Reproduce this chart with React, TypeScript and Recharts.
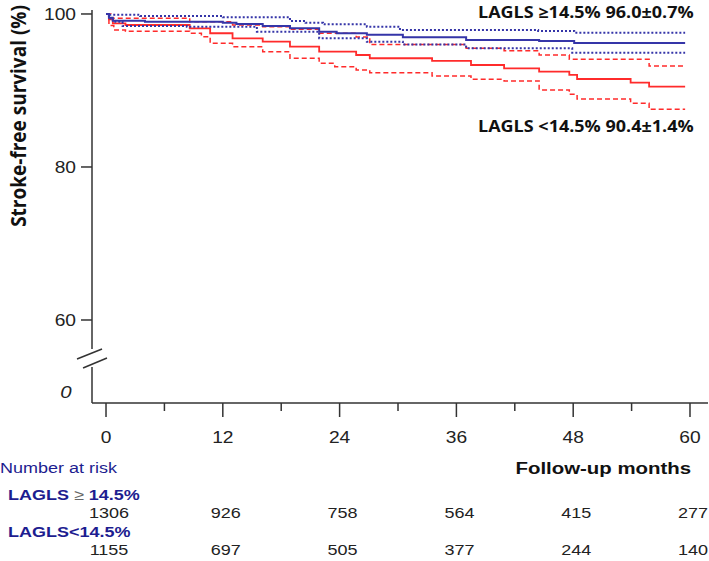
import React from 'react'
import { LineChart, Line, XAxis, YAxis, ReferenceLine } from 'recharts'

// Kaplan-Meier steps (months, % stroke-free)
const blueT = [0, 0.3, 0.7, 4, 12, 13.4, 16.1, 18.9, 21.9, 23.7, 26.8, 30.5, 37, 44.5, 48.1, 59.5]
const blueS = [100, 99.5, 99.12, 98.99, 98.86, 98.69, 98.43, 98.13, 97.69, 97.48, 97.29, 96.95, 96.6, 96.47, 96.21, 96.21]

const blueHiT = [0, 0.3, 3.5, 12, 18.9, 20.5, 22.3, 26.8, 30.2, 44.4, 48.1, 59.5]
const blueHiS = [100, 99.9, 99.74, 99.57, 99.08, 98.86, 98.65, 98.34, 97.9, 97.78, 97.56, 97.56]

const blueLoT = [0, 0.3, 0.7, 1.7, 8.3, 15.5, 21.9, 26.8, 30.5, 37, 47.9, 59.5]
const blueLoS = [100, 99.4, 98.99, 98.43, 98.34, 97.69, 96.82, 96.38, 96.0, 95.52, 94.94, 94.94]

const redT = [0, 0.3, 0.7, 2, 8.6, 10.7, 13, 16.1, 18.9, 21.9, 25.7, 27.1, 33.5, 37.5, 40.9, 44.5, 47.6, 48.4, 53.9, 55.8, 59.5]
const redS = [100, 99.3, 98.78, 98.56, 98.13, 97.48, 96.82, 96.38, 95.73, 95.07, 94.64, 94.21, 93.86, 93.33, 92.9, 92.46, 92.03, 91.5, 91.02, 90.5, 90.5]

const redHiT = [0, 0.5, 8.6, 13, 16.1, 18.9, 21.9, 25.7, 27.1, 37, 40.9, 44.5, 47.6, 55.8, 59.5]
const redHiS = [100, 99.44, 98.99, 98.56, 98.34, 98.0, 97.48, 96.99, 96.0, 95.52, 95.2, 94.64, 94.08, 93.2, 93.2]

const redLoT = [0, 0.3, 0.8, 2, 8.6, 9.8, 10.7, 13, 16.1, 18.9, 21.9, 23.5, 25.7, 27.1, 33.5, 37.5, 40.9, 44.5, 47.6, 48.4, 53.9, 55.8, 59.5]
const redLoS = [100, 98.5, 97.91, 97.74, 97.48, 97.03, 96.17, 95.73, 95.07, 94.21, 93.56, 93.11, 92.68, 92.33, 91.9, 91.46, 91.24, 90.07, 89.5, 88.89, 88.33, 87.54, 87.54]

const xTicks = [0, 6, 12, 18, 24, 30, 36, 42, 48, 54, 60]
const riskMonths = [0, 12, 24, 36, 48, 60]
const riskHigh = [1306, 926, 758, 564, 415, 277]
const riskLow = [1155, 697, 505, 377, 244, 140]

const yTicks = [60, 80, 100]
const yBreakAt = 50.6 // where the "0" sits below the axis break
const yBreakLabel = '0'

const X_MIN = -1.44
const X_MAX = 61.85
const Y_MIN = 49.15
const Y_MAX = 100.52

const BLUE = '#3535a8'
const RED = '#ff2b2b'
const NAVY = '#1d1d90'
const ARIAL = '"Liberation Sans", Arial, sans-serif'
const BOLD = '"Open Sans", "Noto Sans", sans-serif'
const SX = 1.2 // the original figure's lettering is stretched sideways

const toRows = (t: number[], s: number[]) => t.map((v, i) => ({ t: v, s: s[i] }))

function SText({ x, y, sx = SX, anchor = 'start', size, weight = 400, color = '#222', family = ARIAL, italic = false, children }: any) {
  return (
    <g transform={`translate(${x},${y}) scale(${sx},1)`}>
      <text x={0} y={0} dy="0.35em" textAnchor={anchor} fontFamily={family} fontSize={size} fontWeight={weight}
        fontStyle={italic ? 'italic' : 'normal'} fill={color}>
        {children}
      </text>
    </g>
  )
}

function XTick(props: any) {
  const { x, y, payload } = props
  const v = payload.value
  const major = v % 12 === 0
  const i = riskMonths.indexOf(v)
  return (
    <g>
      <line x1={x} x2={x} y1={y} y2={y + (major ? 14 : 8)} stroke="#333" strokeWidth={1.5} />
      {major && <SText x={x} y={y + 34} anchor="middle" size={16}>{v}</SText>}
      {i >= 0 && <SText x={x + 3} y={y + 110} anchor="middle" size={15}>{riskHigh[i]}</SText>}
      {i >= 0 && <SText x={x + 3} y={y + 147} anchor="middle" size={15}>{riskLow[i]}</SText>}
    </g>
  )
}

function YTick(props: any) {
  const { x, y, payload } = props
  const v = payload.value
  if (v === yBreakAt) {
    return <SText x={x - 26} y={y} anchor="middle" size={17} italic>{yBreakLabel}</SText>
  }
  return (
    <g>
      <line x1={x - 11} x2={x} y1={y} y2={y} stroke="#333" strokeWidth={1.5} />
      <SText x={x - 16} y={y} anchor="end" size={16}>{v}</SText>
    </g>
  )
}

export default function App() {
  return (
    <div style={{ position: 'absolute', left: 0, top: 0, width: 709, height: 561, background: '#fff' }}>
      <LineChart width={709} height={561} margin={{ top: 10, right: 1, bottom: 0, left: 0 }}>
        <XAxis
          type="number"
          dataKey="t"
          domain={[X_MIN, X_MAX]}
          ticks={xTicks}
          interval={0}
          height={158}
          tickSize={0}
          tickMargin={0}
          tickLine={false}
          tick={<XTick />}
          axisLine={{ stroke: '#333', strokeWidth: 1.5 }}
        />
        <YAxis
          type="number"
          domain={[Y_MIN, Y_MAX]}
          ticks={[yBreakAt, ...yTicks]}
          interval={0}
          width={92}
          tickSize={0}
          tickMargin={0}
          tickLine={false}
          axisLine={false}
          tick={<YTick />}
        />
        {/* y axis with a break */}
        <ReferenceLine segment={[{ x: X_MIN, y: Y_MAX }, { x: X_MIN, y: 56.2 }]} stroke="#333" strokeWidth={1.5} ifOverflow="visible" />
        <ReferenceLine segment={[{ x: X_MIN, y: 53.85 }, { x: X_MIN, y: Y_MIN }]} stroke="#333" strokeWidth={1.5} ifOverflow="visible" />
        <ReferenceLine segment={[{ x: -2.98, y: 54.9 }, { x: -0.41, y: 56.21 }]} stroke="#333" strokeWidth={1.5} ifOverflow="visible" />
        <ReferenceLine segment={[{ x: -2.36, y: 53.73 }, { x: 0.1, y: 55.03 }]} stroke="#333" strokeWidth={1.5} ifOverflow="visible" />

        <Line data={toRows(redHiT, redHiS)} dataKey="s" type="stepAfter" stroke={RED} strokeWidth={1.5} strokeDasharray="5 3" dot={false} isAnimationActive={false} />
        <Line data={toRows(redLoT, redLoS)} dataKey="s" type="stepAfter" stroke={RED} strokeWidth={1.5} strokeDasharray="5 3" dot={false} isAnimationActive={false} />
        <Line data={toRows(redT, redS)} dataKey="s" type="stepAfter" stroke={RED} strokeWidth={1.8} dot={false} isAnimationActive={false} />
        <Line data={toRows(blueHiT, blueHiS)} dataKey="s" type="stepAfter" stroke={BLUE} strokeWidth={2} strokeDasharray="2 2" dot={false} isAnimationActive={false} />
        <Line data={toRows(blueLoT, blueLoS)} dataKey="s" type="stepAfter" stroke={BLUE} strokeWidth={2} strokeDasharray="2 2" dot={false} isAnimationActive={false} />
        <Line data={toRows(blueT, blueS)} dataKey="s" type="stepAfter" stroke={BLUE} strokeWidth={2} dot={false} isAnimationActive={false} />
      </LineChart>

      <svg width={709} height={561} style={{ position: 'absolute', left: 0, top: 0, pointerEvents: 'none' }}>
        <g transform="translate(18,116) scale(1.15,1) rotate(-90)">
          <text x={0} y={0} dy="0.35em" textAnchor="middle" fontFamily={BOLD} fontWeight={700} fontSize={19} fill="#111">
            Stroke-free survival (%)
          </text>
        </g>
        <SText x={478} y={12} sx={1.125} size={16} weight={700} family={BOLD} color="#111">
          LAGLS ≥14.5% 96.0±0.7%
        </SText>
        <SText x={478} y={126} sx={1.125} size={16} weight={700} family={BOLD} color="#111">
          LAGLS {'<'}14.5% 90.4±1.4%
        </SText>
        <SText x={0} y={468} size={15} color={NAVY}>Number at risk</SText>
        <SText x={691} y={468} anchor="end" size={17} weight={700} color="#111">Follow-up months</SText>
        <SText x={8} y={495} size={15} weight={700} color={NAVY}>
          LAGLS <tspan fontWeight={400} fill="#666">≥</tspan> 14.5%
        </SText>
        <SText x={8} y={532} size={15} weight={700} color={NAVY}>LAGLS{'<'}14.5%</SText>
      </svg>
    </div>
  )
}
